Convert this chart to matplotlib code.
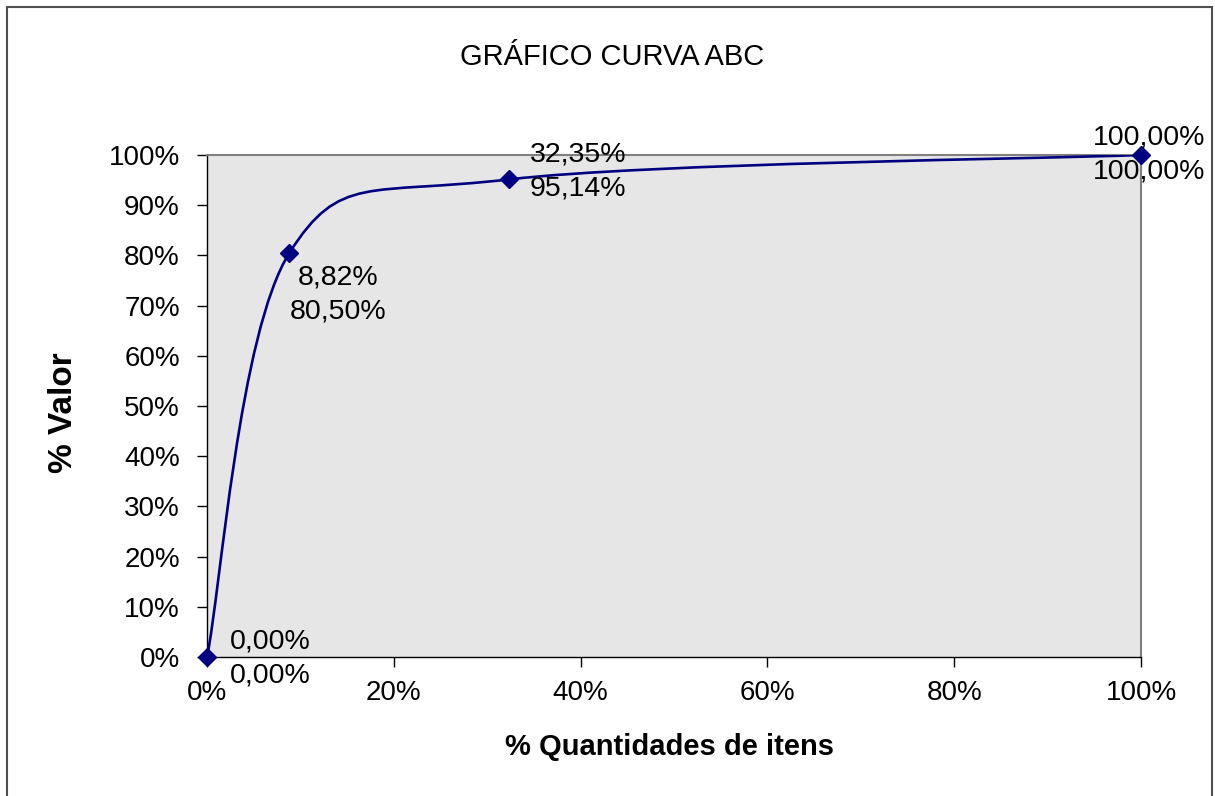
"""Curva ABC: % valor acumulado vs % quantidade de itens."""

import matplotlib
matplotlib.use("Agg")
import matplotlib.pyplot as plt
from matplotlib.path import Path
from matplotlib.patches import PathPatch, Rectangle

# data
pct_itens = [0.0, 8.82, 32.35, 100.0]
pct_valor = [0.0, 80.50, 95.14, 100.0]
x_ticks = [0, 20, 40, 60, 80, 100]
y_ticks = [0, 10, 20, 30, 40, 50, 60, 70, 80, 90, 100]

# label offsets in points (dx, dy, ha) - just placement
label_pos = [(16.5, -1, "left"), (35, -30, "center"), (15, 6, "left"), (46, 0, "right")]

NAVY = "#000080"

plt.rcParams["font.family"] = ["Liberation Sans", "DejaVu Sans"]


def fmt_br(v):
    return f"{v:.2f}".replace(".", ",") + "%"


def smooth_path(xs, ys):
    """Excel-like smoothed line: cubic bezier with catmull-rom control points."""
    pts = list(zip(xs, ys))
    n = len(pts)
    verts = [pts[0]]
    codes = [Path.MOVETO]
    for i in range(n - 1):
        p0 = pts[max(i - 1, 0)]
        p1 = pts[i]
        p2 = pts[i + 1]
        p3 = pts[min(i + 2, n - 1)]
        c1 = (p1[0] + (p2[0] - p0[0]) / 6, p1[1] + (p2[1] - p0[1]) / 6)
        c2 = (p2[0] - (p3[0] - p1[0]) / 6, p2[1] - (p3[1] - p1[1]) / 6)
        verts += [c1, c2, p2]
        codes += [Path.CURVE4] * 3
    return Path(verts, codes)


fig = plt.figure(figsize=(12.15, 7.96), dpi=100)
ax = fig.add_axes([0.1704, 0.1746, 0.7687, 0.6307])
ax.set_facecolor("#E6E6E6")

# outer chart frame
fig.patches.append(Rectangle((7 / 1215, -0.02), 1205 / 1215, 1.02 - 7 / 796,
                             transform=fig.transFigure, fill=False,
                             edgecolor="#505050", linewidth=1.5))

ax.add_patch(PathPatch(smooth_path(pct_itens, pct_valor), fill=False,
                       edgecolor=NAVY, linewidth=1.9, zorder=3))
ax.plot(pct_itens, pct_valor, linestyle="none", marker="D", markersize=9.5,
        color=NAVY, zorder=4, clip_on=False)

for x, y, (dx, dy, ha) in zip(pct_itens, pct_valor, label_pos):
    ax.annotate(fmt_br(x) + "\n" + fmt_br(y), (x, y), xytext=(dx, dy),
                textcoords="offset points", ha=ha, va="center",
                fontsize=20.5, linespacing=1.4, zorder=5)

ax.set_xlim(0, 100)
ax.set_ylim(0, 100)
ax.set_xticks(x_ticks)
ax.set_xticklabels([f"{t}%" for t in x_ticks])
ax.set_yticks(y_ticks)
ax.set_yticklabels([f"{t}%" for t in y_ticks])
ax.tick_params(axis="both", direction="out", length=7, width=1,
               labelsize=20, color="#000000")
ax.tick_params(axis="x", pad=9.5)
ax.tick_params(axis="y", pad=12.5)

for side in ["top", "right"]:
    ax.spines[side].set_color("#808080")
    ax.spines[side].set_linewidth(1.5)
for side in ["left", "bottom"]:
    ax.spines[side].set_color("#000000")
    ax.spines[side].set_linewidth(1)

fig.text(0.504, 0.928, "GRÁFICO CURVA ABC", ha="center", va="center", fontsize=21)
fig.text(0.551, 0.061, "% Quantidades de itens", ha="center", va="center",
         fontsize=21, fontweight="bold")
fig.text(0.052, 0.482, "% Valor", ha="center", va="center", rotation=90,
         fontsize=24, fontweight="bold")

fig.savefig("out.png", dpi=100)
